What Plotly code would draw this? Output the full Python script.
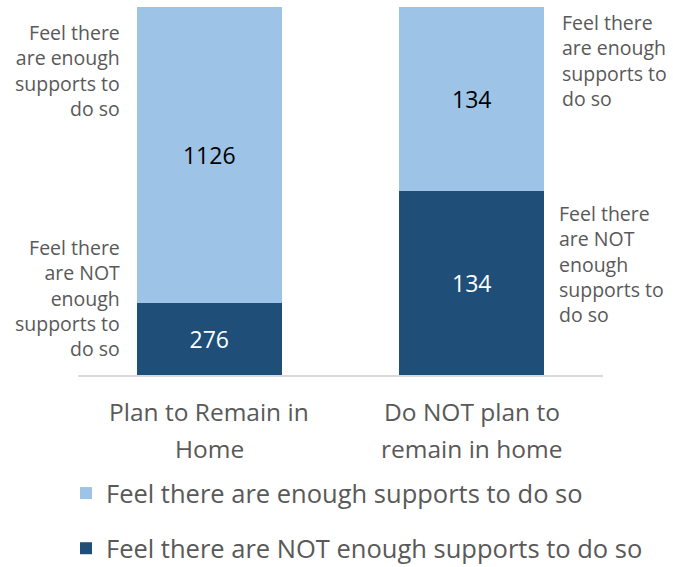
import plotly.graph_objects as go

categories = ["Plan to Remain in<br>Home", "Do NOT plan to<br>remain in home"]
not_enough = [276, 134]
enough = [1126, 134]
series_names = ["Feel there are NOT enough supports to do so", "Feel there are enough supports to do so"]
colors = ["#1F4E79", "#9DC3E6"]

FONT = "Open Sans"
GRAY = "#595959"

fig = go.Figure()
fig.add_trace(go.Bar(
    x=categories, y=not_enough, name=series_names[0], marker_color=colors[0],
    text=not_enough, textposition="inside", insidetextanchor="middle", textangle=0,
    textfont=dict(color="white", size=23, family=FONT), legendrank=2,
    marker_line_width=0, legendgroup="a",
))
fig.add_trace(go.Bar(
    x=categories, y=enough, name=series_names[1], marker_color=colors[1],
    text=enough, textposition="inside", insidetextanchor="middle", textangle=0,
    textfont=dict(color="black", size=23, family=FONT), legendrank=1,
    marker_line_width=0, legendgroup="b",
))

W, H = 673, 567
L, R, T, B = 78, 70, 7, 192


def px(x):
    return (x - L) / (W - L - R)


def py(y):
    return 1 - (y - T) / (H - T - B)


ann_font = dict(family=FONT, size=19.5, color=GRAY)
annos = [
    dict(text="Feel there<br>are enough<br>supports to<br>do so", x=px(122), y=py(70), xanchor="right", yanchor="middle", align="right"),
    dict(text="Feel there<br>are NOT<br>enough<br>supports to<br>do so", x=px(122), y=py(298), xanchor="right", yanchor="middle", align="right"),
    dict(text="Feel there<br>are enough<br>supports to<br>do so", x=px(560), y=py(61), xanchor="left", yanchor="middle", align="left"),
    dict(text="Feel there<br>are NOT<br>enough<br>supports to<br>do so", x=px(557), y=py(264), xanchor="left", yanchor="middle", align="left"),
]
for a in annos:
    fig.add_annotation(xref="paper", yref="paper", showarrow=False, font=ann_font, **a)

# category labels (two lines each, wide line spacing)
cat_font = dict(family=FONT, size=24.5, color=GRAY)
for c in categories:
    for i, line in enumerate(c.split("<br>")):
        fig.add_annotation(xref="x", yref="paper", x=c, y=py(411 + 37 * i),
                           text=line, showarrow=False, xanchor="center", yanchor="middle",
                           font=cat_font)

fig.update_layout(
    width=W, height=H,
    barmode="stack", barnorm="percent", bargap=0.448,
    plot_bgcolor="white", paper_bgcolor="white",
    margin=dict(l=L, r=R, t=T, b=B, autoexpand=False),
    font=dict(family=FONT, color=GRAY),
    legend=dict(
        orientation="v", x=px(66), y=py(470), xanchor="left", yanchor="top",
        traceorder="grouped", tracegroupgap=19,
        font=dict(family=FONT, size=25.5, color=GRAY),
        itemwidth=30,
    ),
    showlegend=True,
)
fig.update_xaxes(
    showline=True, linecolor="#D9D9D9", linewidth=1.5,
    showticklabels=False, ticks="", showgrid=False,
)
fig.update_yaxes(visible=False, range=[0, 100], showgrid=False)

fig.write_html(
    "out.html",
    config={"displayModeBar": False},
    post_script="document.body.style.margin='0';document.body.style.overflow='hidden';",
)
